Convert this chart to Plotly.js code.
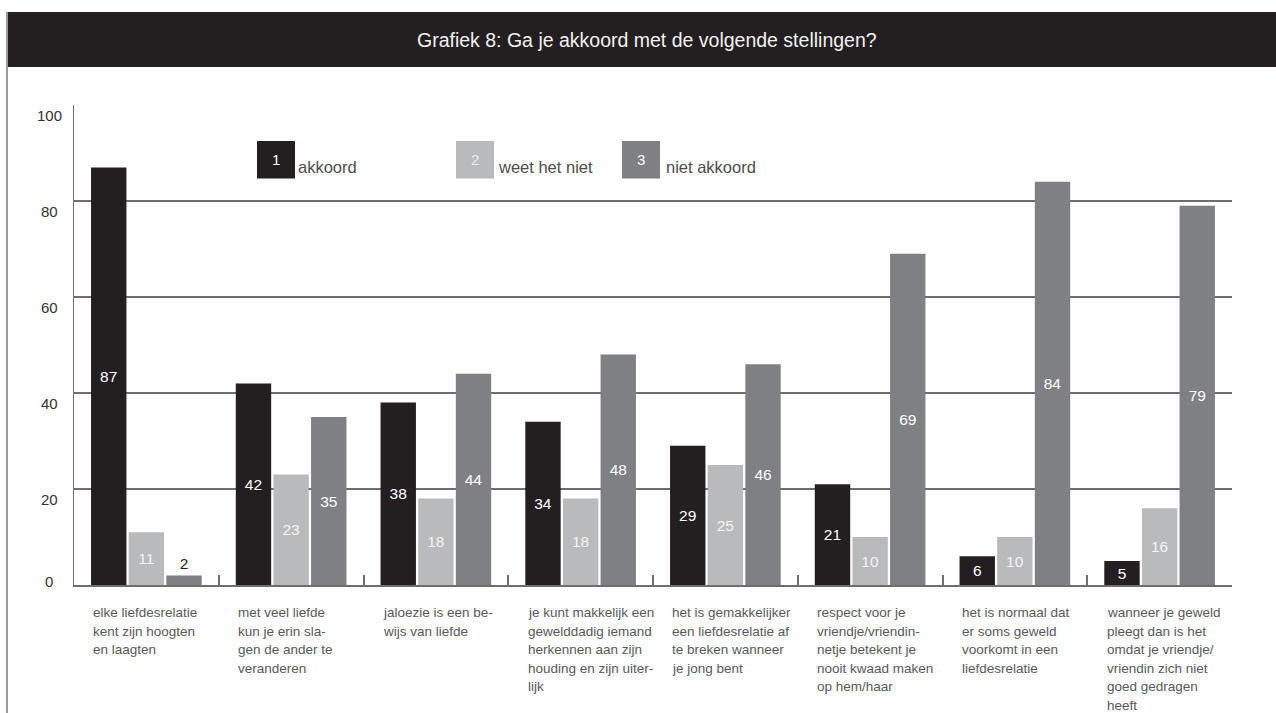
<!DOCTYPE html>
<html>
<head>
<meta charset="utf-8">
<script src="https://cdn.plot.ly/plotly-3.0.1.min.js"></script>
<style>
  html, body { margin: 0; padding: 0; background: #ffffff; }
  #chart { width: 1276px; height: 713px; }
</style>
</head>
<body>
<div id="chart"></div>
<script>
// ---------- DATA ----------
const chartTitle = "Grafiek 8: Ga je akkoord met de volgende stellingen?";
const categoryLines = [
  ["elke liefdesrelatie", "kent zijn hoogten", "en laagten"],
  ["met veel liefde", "kun je erin sla-", "gen de ander te", "veranderen"],
  ["jaloezie is een be-", "wijs van liefde"],
  ["je kunt makkelijk een", "gewelddadig iemand", "herkennen aan zijn", "houding en zijn uiter-", "lijk"],
  ["het is gemakkelijker", "een liefdesrelatie af", "te breken wanneer", "je jong bent"],
  ["respect voor je", "vriendje/vriendin-", "netje betekent je", "nooit kwaad maken", "op hem/haar"],
  ["het is normaal dat", "er soms geweld", "voorkomt in een", "liefdesrelatie"],
  ["wanneer je geweld", "pleegt dan is het", "omdat je vriendje/", "vriendin zich niet", "goed gedragen", "heeft"]
];
const seriesNames = ["akkoord", "weet het niet", "niet akkoord"];
const seriesNumbers = ["1", "2", "3"];
const akkoord      = [87, 42, 38, 34, 29, 21, 6, 5];
const weetHetNiet  = [11, 23, 18, 18, 25, 10, 10, 16];
const nietAkkoord  = [2, 35, 44, 48, 46, 69, 84, 79];
const yTicks = [0, 20, 40, 60, 80, 100];

// ---------- STYLE ----------
const FONT = "Liberation Sans, Arial, Helvetica, sans-serif";
const colors = ["#231f20", "#b9babc", "#7f8083"];
const insideTextColors = ["#ffffff", "#f4f4f4", "#ffffff"];
const numberColors = ["#ffffff", "#eeeeee", "#ffffff"];
const W = 1276, H = 713;
const M = { l: 74, r: 44, t: 105, b: 128 };
const PW = W - M.l - M.r, PH = H - M.t - M.b;
const px2x = px => (px - M.l) / PW;
const py2y = py => (H - M.b - py) / PH;

const categories = categoryLines.map(l => l.join(" "));
const allSeries = [akkoord, weetHetNiet, nietAkkoord];

const traces = allSeries.map((vals, s) => ({
  type: "bar",
  name: seriesNames[s],
  x: categories,
  y: vals,
  marker: { color: colors[s], line: { width: 0 } },
  text: vals.map(String),
  textposition: vals.map(v => (v < 4 ? "outside" : "inside")),
  insidetextanchor: "middle",
  constraintext: "none",
  cliponaxis: false,
  insidetextfont: { family: FONT, size: 15.5, color: insideTextColors[s] },
  outsidetextfont: { family: FONT, size: 15.5, color: "#231f20" },
  hoverinfo: "skip",
  showlegend: false
}));

// ---------- ANNOTATIONS & SHAPES ----------
const annotations = [];
const shapes = [];

// title bar
shapes.push({
  type: "rect", xref: "paper", yref: "paper",
  x0: px2x(6), x1: px2x(1276), y0: py2y(67), y1: py2y(12),
  fillcolor: "#231f20", line: { width: 0 }, layer: "below"
});
// left border line
shapes.push({
  type: "line", xref: "paper", yref: "paper",
  x0: px2x(7), x1: px2x(7), y0: py2y(12), y1: py2y(713),
  line: { color: "#9a9a9a", width: 2 }
});
annotations.push({
  text: chartTitle, xref: "paper", yref: "paper",
  x: px2x(647), y: py2y(40), xanchor: "center", yanchor: "middle",
  showarrow: false, font: { family: FONT, size: 19.5, color: "#f2f2f2" }
});

// y tick labels (centred, sitting just below their gridline)
yTicks.forEach(v => {
  annotations.push({
    text: String(v), xref: "paper", yref: "y",
    x: px2x(49), y: v, xanchor: "center", yanchor: "middle",
    yshift: v === 0 ? 4 : -10,
    showarrow: false, font: { family: FONT, size: 15, color: "#333333" }
  });
});

// category labels (left aligned, below axis)
categoryLines.forEach((lines, i) => {
  lines.forEach((line, k) => {
    annotations.push({
      text: line, xref: "x", yref: "paper",
      x: i - 0.38, y: 0, xanchor: "left", yanchor: "middle",
      yshift: -(27.5 + 18.6 * k),
      showarrow: false, font: { family: FONT, size: 13.5, color: "#58595b" }
    });
  });
});

// custom legend
const legendBoxLeft = [257, 456, 622];
const legendTextLeft = [296, 496, 664];
seriesNames.forEach((name, s) => {
  const x0 = legendBoxLeft[s];
  shapes.push({
    type: "rect", xref: "paper", yref: "paper",
    x0: px2x(x0), x1: px2x(x0 + 38), y0: py2y(178.5), y1: py2y(141),
    fillcolor: colors[s], line: { width: 0 }
  });
  annotations.push({
    text: seriesNumbers[s], xref: "paper", yref: "paper",
    x: px2x(x0 + 19), y: py2y(159), xanchor: "center", yanchor: "middle",
    showarrow: false, font: { family: FONT, size: 15, color: numberColors[s] }
  });
  annotations.push({
    text: name, xref: "paper", yref: "paper",
    x: px2x(legendTextLeft[s]), y: py2y(166.5), xanchor: "left", yanchor: "middle",
    showarrow: false, font: { family: FONT, size: 16.5, color: "#4d4d4f" }
  });
});

const layout = {
  width: W, height: H,
  margin: M,
  paper_bgcolor: "#ffffff",
  plot_bgcolor: "#ffffff",
  barmode: "group",
  bargap: 0.22,
  bargroupgap: 0.06,
  showlegend: false,
  font: { family: FONT },
  xaxis: {
    type: "category",
    showticklabels: false,
    showgrid: false,
    zeroline: false,
    showline: true,
    linecolor: "#6d6e71",
    linewidth: 2,
    ticks: "inside",
    tickson: "boundaries",
    ticklen: 10,
    tickwidth: 2,
    tickcolor: "#6d6e71",
    range: [-0.5, 7.5],
    fixedrange: true
  },
  yaxis: {
    range: [0, 100],
    tickvals: yTicks,
    showticklabels: false,
    showgrid: true,
    gridcolor: "#6d6e71",
    gridwidth: 2,
    zeroline: false,
    showline: true,
    linecolor: "#6d6e71",
    linewidth: 1.5,
    ticks: "",
    fixedrange: true
  },
  shapes: shapes,
  annotations: annotations
};

Plotly.newPlot("chart", traces, layout, { displayModeBar: false, staticPlot: true });
</script>
</body>
</html>
